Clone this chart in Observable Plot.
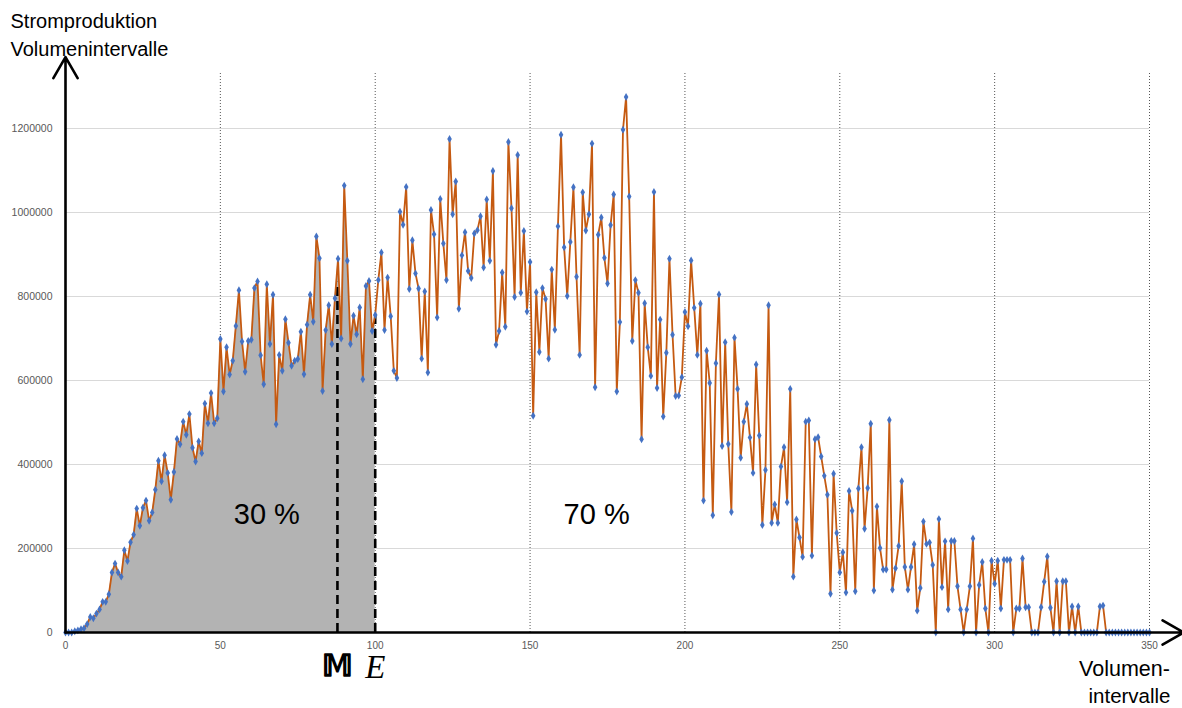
<!DOCTYPE html>
<html><head><meta charset="utf-8">
<script src="https://cdn.jsdelivr.net/npm/d3@7"></script>
<script src="https://cdn.jsdelivr.net/npm/@observablehq/plot@0.6"></script>
<style>body{margin:0;background:#fff;}</style>
</head><body><div id="chart"></div>
<script>
// Stromproduktion je Volumenintervall (index = Intervall 0..350)
const values = [
  0,0,0,3000,5000,8000,10000,20000,37000,34000,
  45000,55000,73000,73000,91000,143000,164000,143000,133000,196000,
  170000,215000,233000,295000,254000,297000,314000,266000,286000,340000,
  409000,360000,422000,380000,316000,382000,461000,448000,502000,471000,
  520000,440000,407000,455000,427000,545000,498000,570000,498000,510000,
  699000,574000,679000,614000,647000,730000,815000,693000,621000,694000,
  697000,820000,836000,660000,591000,829000,687000,804000,496000,661000,
  623000,746000,690000,635000,647000,651000,716000,615000,733000,804000,
  740000,943000,891000,575000,720000,779000,687000,796000,890000,700000,
  1064000,885000,687000,754000,710000,774000,603000,825000,837000,718000,
  756000,839000,905000,720000,845000,753000,623000,606000,1002000,971000,
  1061000,818000,934000,855000,819000,652000,812000,619000,1006000,948000,
  750000,1032000,926000,839000,1175000,996000,1074000,771000,898000,953000,
  861000,844000,950000,958000,991000,869000,1031000,885000,1099000,685000,
  718000,857000,728000,1168000,1010000,799000,1137000,809000,956000,764000,
  882000,516000,810000,668000,820000,794000,652000,864000,721000,967000,
  1185000,917000,801000,930000,1060000,847000,661000,1048000,957000,996000,
  1164000,584000,947000,988000,892000,831000,970000,1043000,574000,739000,
  1197000,1275000,1038000,694000,839000,809000,460000,784000,679000,611000,
  1049000,582000,745000,514000,666000,890000,709000,563000,564000,608000,
  763000,729000,886000,773000,661000,783000,314000,671000,594000,279000,
  641000,805000,444000,691000,449000,287000,702000,580000,416000,502000,
  544000,464000,380000,638000,469000,256000,387000,779000,261000,305000,
  261000,395000,441000,310000,580000,133000,269000,226000,180000,502000,
  505000,183000,460000,465000,419000,373000,328000,92000,378000,237000,
  143000,191000,95000,337000,290000,98000,343000,441000,247000,344000,
  497000,100000,300000,201000,150000,150000,506000,102000,153000,206000,
  360000,156000,102000,156000,210000,52000,106000,264000,211000,214000,
  161000,0,270000,108000,217000,55000,218000,218000,110000,55000,
  0,55000,110000,224000,0,113000,168000,57000,0,171000,
  116000,171000,57000,173000,173000,173000,0,57000,57000,176000,
  60000,60000,0,0,0,60000,121000,181000,59000,0,
  122000,0,122000,122000,0,62000,0,62000,0,0,
  0,0,0,0,62000,64000,0,0,0,0,
  0,0,0,0,0,0,0,0,0,0,0
];
const xTicks = [0, 50, 100, 150, 200, 250, 300, 350];
const yTicks = [0, 200000, 400000, 600000, 800000, 1000000, 1200000];
const shadeEnd = 100;
const gridTop = 1333000;
const axisEnds = [{x1: 0, y1: 0, x2: 361, y2: 0}, {x1: 0, y1: 0, x2: 0, y2: 1370000}];
const cutLines = [
  {x: 87.8, top: 834000, label: "𝕄", kind: "M"},
  {x: 100, top: 756000, label: "E", kind: "E"}
];
const shares = [{x: 65, y: 280000, label: "30 %"}, {x: 171.5, y: 280000, label: "70 %"}];

const data = values.map((v, i) => ({interval: i, value: v}));
const font = "'Liberation Sans', Arial, sans-serif";

const chart = Plot.plot({
  width: 1182, height: 708,
  marginLeft: 65, marginRight: 33, marginTop: 65, marginBottom: 76,
  style: {fontFamily: font, background: "white", overflow: "visible"},
  x: {domain: [0, 350]},
  y: {domain: [0, 1350000]},
  marks: [
    Plot.ruleY(yTicks.slice(1), {x1: 0, x2: 350, stroke: "#d9d9d9", strokeWidth: 1}),
    Plot.ruleX(xTicks.slice(1), {y1: 0, y2: gridTop, stroke: "#555", strokeWidth: 1, strokeDasharray: "1,2"}),
    Plot.areaY(data.filter(d => d.interval <= shadeEnd), {x: "interval", y: "value", fill: "#b3b3b3"}),
    Plot.ruleX(cutLines, {x: "x", y1: 0, y2: "top", stroke: "#000", strokeWidth: 2.6, strokeDasharray: "9,5"}),
    Plot.line(data, {x: "interval", y: "value", stroke: "#c55a11", strokeWidth: 1.8}),
    Plot.dot(data, {x: "interval", y: "value", symbol: "diamond", r: 2.4, fill: "#4472c4"}),
    Plot.axisY(yTicks, {tickSize: 0, tickPadding: 13, fontSize: 10.5, fill: "#595959", label: null, tickFormat: d => `${d}`}),
    Plot.axisX(xTicks, {tickSize: 0, tickPadding: 9, fontSize: 10, fill: "#595959", label: null, tickFormat: d => `${d}`}),
    Plot.arrow(axisEnds, {x1: "x1", y1: "y1", x2: "x2", y2: "y2", stroke: "#000", strokeWidth: 2.6, headLength: 14}),
    Plot.text(shares, {x: "x", y: "y", text: "label", fontSize: 29, fill: "#000"}),
    Plot.text(["Stromproduktion"], {frameAnchor: "top-left", textAnchor: "start", lineAnchor: "bottom", dx: -55, dy: -38, fontSize: 20, fill: "#000"}),
    Plot.text(["Volumenintervalle"], {frameAnchor: "top-left", textAnchor: "start", lineAnchor: "bottom", dx: -55, dy: -10, fontSize: 20, fill: "#000", style: {letterSpacing: "0.9px"}}),
    Plot.text(["Volumen-"], {frameAnchor: "bottom-right", textAnchor: "middle", lineAnchor: "bottom", dx: -25, dy: 43, fontSize: 21.5, fill: "#000"}),
    Plot.text(["intervalle"], {frameAnchor: "bottom-right", textAnchor: "middle", lineAnchor: "bottom", dx: -20, dy: 70, fontSize: 20.5, fill: "#000"}),
    Plot.text(cutLines.filter(d => d.kind === "M"), {x: "x", text: "label", frameAnchor: "bottom", lineAnchor: "middle", dy: 34, fontSize: 30, fontFamily: "DejaVu Sans", fill: "#000", stroke: "#000", strokeWidth: 1.6}),
    Plot.text(cutLines.filter(d => d.kind === "E"), {x: "x", text: "label", frameAnchor: "bottom", lineAnchor: "middle", dy: 35, fontSize: 33, fontStyle: "italic", fontFamily: "'Liberation Serif', serif", fill: "#000"})
  ]
});
document.getElementById("chart").appendChild(chart);
</script>
</body></html>
